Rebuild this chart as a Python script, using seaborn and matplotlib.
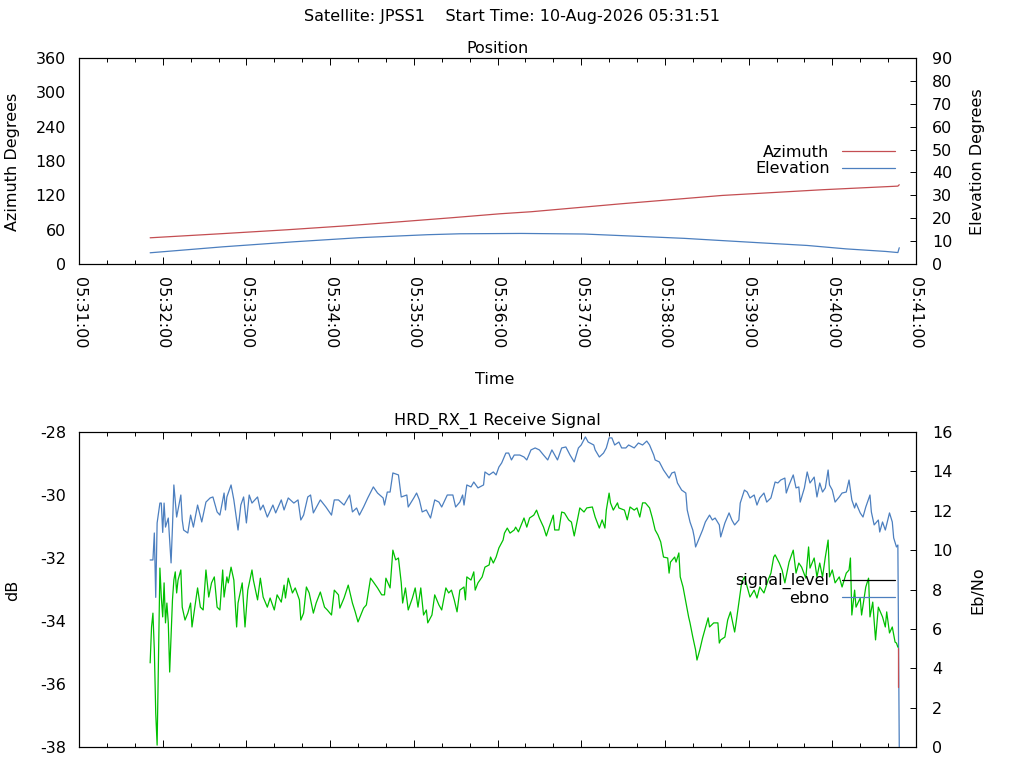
import matplotlib
matplotlib.use("Agg")
import matplotlib.pyplot as plt
from matplotlib.lines import Line2D
from matplotlib.ticker import MultipleLocator, FuncFormatter
import seaborn as sns

# times are seconds after 05:31:00
az_times = [51, 101, 149, 192, 230, 267, 302, 324, 389, 461, 533, 587, 588]
azimuth = [45.8, 52.8, 59.8, 66.8, 73.8, 80.8, 87.8, 91.3, 105.3, 119.8, 129.8, 136.1, 138.5]

el_times = [51, 103, 154, 201, 250, 273, 317, 362, 404, 434, 459, 490, 522, 550, 578, 587, 588]
elevation = [4.9, 7.5, 9.7, 11.5, 12.8, 13.2, 13.35, 13.1, 12.0, 11.2, 10.3, 9.2, 8.1, 6.6, 5.5, 5.0, 7.1]

ebno_times = [
    51, 53, 54, 55, 56, 58, 59, 60, 61, 62, 64, 66, 67, 68, 70, 73, 74, 75, 78, 80,
    82, 85, 88, 91, 94, 96, 99, 101, 104, 105, 106, 109, 111, 114, 116, 118, 120, 122, 124, 128,
    130, 132, 135, 139, 141, 145, 147, 150, 154, 157, 159, 161, 164, 166, 168, 171, 173, 177, 181, 183,
    186, 190, 194, 196, 199, 201, 204, 207, 211, 214, 218, 219, 221, 223, 225, 229, 231, 235, 236, 240,
    242, 244, 246, 249, 252, 255, 258, 260, 264, 268, 270, 273, 275, 276, 278, 281, 283, 286, 290, 291,
    294, 297, 299, 301, 303, 306, 308, 310, 312, 316, 319, 321, 324, 327, 330, 333, 336, 339, 341, 343,
    346, 349, 352, 355, 358, 360, 363, 365, 369, 370, 373, 376, 378, 380, 382, 384, 387, 389, 392, 394,
    398, 401, 404, 407, 409, 412, 413, 416, 419, 423, 425, 427, 429, 432, 435, 436, 438, 440, 441, 442,
    445, 447, 449, 452, 454, 456, 459, 460, 463, 466, 468, 470, 473, 474, 477, 479, 481, 484, 486, 488,
    491, 493, 496, 499, 501, 503, 506, 507, 509, 512, 514, 516, 517, 520, 522, 524, 527, 529, 531, 533,
    535, 537, 538, 540, 542, 545, 547, 550, 552, 554, 556, 557, 560, 562, 564, 567, 568, 570, 573, 574,
    576, 578, 581, 583, 584, 586, 587, 588,
]
ebno = [
    9.50, 9.50, 10.87, 7.60, 11.38, 12.39, 12.39, 10.90, 12.39, 11.17, 11.63, 9.35, 11.17, 13.31, 11.68, 12.80, 11.53, 11.02, 10.87, 11.78,
    11.17, 12.29, 11.43, 12.44, 12.65, 12.70, 11.94, 11.78, 12.90, 12.04, 12.70, 13.31, 12.55, 11.02, 12.29, 12.70, 11.38, 12.80, 12.39, 12.70,
    12.04, 12.29, 11.68, 12.29, 11.89, 12.55, 12.04, 12.65, 12.39, 12.55, 11.53, 11.78, 12.70, 12.80, 11.89, 12.29, 12.55, 12.19, 11.78, 12.55,
    12.55, 12.29, 12.80, 11.94, 12.14, 11.78, 12.19, 12.65, 13.21, 12.90, 12.65, 12.29, 12.95, 12.95, 13.92, 13.82, 12.70, 12.80, 12.19, 12.65,
    12.90, 12.55, 11.94, 12.04, 11.63, 12.55, 12.44, 12.19, 12.80, 12.80, 12.19, 12.44, 12.80, 12.29, 13.31, 13.21, 13.46, 13.16, 13.31, 13.97,
    13.82, 13.97, 13.82, 14.22, 14.43, 14.93, 14.93, 14.58, 14.83, 14.83, 14.73, 14.58, 15.09, 15.19, 15.09, 14.83, 14.58, 15.09, 14.83, 14.58,
    15.19, 15.24, 14.83, 14.48, 15.19, 15.34, 15.75, 15.49, 15.34, 15.09, 14.73, 14.93, 15.19, 15.70, 15.70, 15.34, 15.49, 15.19, 15.19, 15.34,
    15.19, 15.44, 15.34, 15.54, 15.34, 14.83, 14.58, 14.48, 14.07, 13.66, 13.92, 13.97, 13.41, 13.05, 12.90, 12.04, 11.43, 11.02, 10.67, 10.16,
    10.67, 11.02, 11.43, 11.78, 11.53, 11.63, 11.28, 10.67, 11.38, 11.89, 11.53, 11.28, 11.53, 12.39, 13.05, 12.95, 12.65, 12.80, 12.29, 12.65,
    12.90, 12.44, 12.65, 13.46, 13.41, 13.56, 13.66, 12.90, 13.31, 13.82, 13.16, 13.21, 12.44, 13.16, 13.97, 13.41, 13.71, 12.70, 13.41, 12.95,
    13.16, 14.07, 13.31, 13.05, 12.44, 12.70, 12.90, 12.95, 13.56, 12.55, 12.14, 12.39, 11.89, 11.68, 12.19, 12.80, 11.94, 11.28, 11.53, 10.92,
    11.43, 11.02, 11.89, 11.43, 10.62, 10.16, 10.26, 0.0,
]

signal_times = [
    51, 52, 53, 54, 55, 56, 57, 58, 59, 60, 61, 62, 63, 64, 65, 67, 68, 69, 70, 71,
    73, 74, 76, 78, 80, 81, 83, 85, 87, 89, 91, 93, 95, 97, 99, 101, 103, 104, 106, 107,
    109, 111, 113, 114, 117, 119, 121, 124, 125, 128, 130, 132, 135, 137, 140, 142, 145, 147, 148, 150,
    153, 155, 158, 159, 161, 163, 165, 168, 170, 173, 176, 178, 181, 183, 186, 187, 190, 193, 196, 198,
    200, 204, 206, 209, 211, 214, 217, 219, 220, 223, 225, 227, 229, 231, 232, 234, 236, 239, 241, 243,
    245, 247, 249, 250, 253, 255, 258, 260, 263, 265, 267, 269, 271, 273, 276, 277, 278, 281, 283, 284,
    286, 289, 291, 294, 295, 297, 299, 301, 304, 305, 307, 309, 312, 313, 315, 317, 319, 321, 323, 326,
    328, 330, 333, 335, 337, 340, 341, 344, 346, 348, 351, 353, 355, 357, 359, 362, 364, 368, 370, 373,
    375, 377, 378, 380, 381, 383, 386, 387, 391, 393, 395, 398, 400, 402, 404, 406, 409, 411, 413, 415,
    417, 419, 422, 423, 424, 427, 428, 430, 431, 433, 435, 437, 438, 440, 442, 443, 445, 447, 449, 451,
    452, 455, 458, 459, 460, 463, 465, 467, 470, 471, 473, 475, 477, 479, 481, 484, 486, 488, 491, 494,
    496, 498, 499, 502, 504, 506, 509, 512, 514, 516, 518, 521, 523, 524, 527, 529, 531, 533, 535, 537,
    538, 540, 542, 545, 547, 550, 552, 553, 554, 556, 557, 560, 561, 564, 566, 567, 569, 571, 573, 576,
    578, 579, 581, 583, 585, 586, 587,
]
signal_level = [
    -35.33, -34.19, -33.75, -34.92, -36.92, -37.94, -35.02, -32.32, -33.24, -33.87, -32.79, -34.06, -33.43, -34.06, -35.62, -33.33, -32.70, -32.44, -33.11, -32.70,
    -32.38, -33.56, -33.97, -33.75, -33.43, -34.19, -33.56, -32.95, -33.56, -33.65, -32.38, -33.24, -32.79, -32.60, -33.56, -33.65, -32.38, -33.24, -32.60, -32.79,
    -32.29, -32.70, -34.19, -33.43, -32.79, -34.19, -33.02, -32.38, -32.70, -33.33, -32.64, -33.24, -33.56, -33.27, -33.65, -33.17, -33.40, -32.86, -33.27, -32.64,
    -33.11, -32.95, -33.33, -33.97, -33.75, -32.92, -33.11, -33.75, -33.43, -33.08, -33.56, -33.65, -33.81, -33.02, -33.17, -33.59, -33.27, -32.86, -33.43, -33.71,
    -34.03, -33.59, -33.49, -32.64, -32.76, -32.95, -33.17, -33.17, -32.64, -32.95, -31.75, -32.06, -32.00, -32.79, -33.43, -32.95, -33.65, -33.27, -32.95, -33.56,
    -32.95, -33.81, -33.65, -34.06, -33.81, -33.17, -33.49, -33.65, -32.95, -33.11, -33.02, -33.33, -33.71, -33.02, -32.92, -33.33, -32.60, -32.70, -32.44, -33.02,
    -32.79, -32.60, -32.29, -32.22, -31.97, -32.16, -31.97, -31.68, -31.43, -31.21, -31.05, -31.21, -31.11, -31.02, -31.17, -30.95, -30.73, -31.02, -30.73, -30.64,
    -30.48, -30.73, -31.02, -31.30, -31.02, -30.64, -31.11, -31.11, -30.54, -30.57, -30.79, -30.86, -31.30, -30.86, -30.41, -30.54, -30.41, -30.38, -30.70, -31.05,
    -30.79, -31.05, -30.48, -29.94, -30.25, -30.48, -30.25, -30.41, -30.48, -30.79, -30.38, -30.48, -30.41, -30.70, -30.25, -30.25, -30.41, -30.73, -31.11, -31.27,
    -31.49, -31.97, -32.00, -32.48, -32.13, -31.97, -32.13, -31.84, -32.60, -32.92, -33.40, -33.87, -34.06, -34.51, -34.92, -35.24, -34.92, -34.54, -34.22, -33.90,
    -34.19, -34.06, -34.06, -34.70, -34.60, -34.51, -33.97, -33.71, -34.35, -34.06, -33.43, -32.79, -32.60, -32.92, -33.24, -33.02, -33.27, -32.92, -33.11, -32.70,
    -32.48, -31.97, -31.90, -32.16, -32.38, -32.79, -32.13, -31.75, -32.48, -32.16, -32.29, -32.64, -31.65, -32.32, -32.00, -32.60, -32.16, -32.60, -31.97, -31.43,
    -32.60, -32.38, -32.79, -32.60, -32.92, -32.48, -32.38, -32.00, -33.81, -33.02, -33.56, -33.27, -33.81, -32.92, -32.64, -33.87, -33.40, -34.60, -33.56, -33.87,
    -34.19, -33.71, -34.38, -34.19, -34.67, -34.70, -34.83,
]

# short red trace at the very end of the pass
tail_times = [587, 587]
tail_level = [-34.86, -36.10]

AZ_RED = "#c44e52"
EL_BLUE = "#4c7fbf"
SIG_GREEN = "#00c000"
FS = 11.5
LW = 0.9

sns.set_style("white")
plt.rcParams["font.family"] = ["DejaVu Sans"]
plt.rcParams["font.size"] = FS
plt.rcParams["axes.unicode_minus"] = False
plt.rcParams["text.color"] = "black"
plt.rcParams["axes.labelcolor"] = "black"
plt.rcParams["xtick.color"] = "black"
plt.rcParams["ytick.color"] = "black"


def time_label(v, pos):
    return f"05:{31 + int(round(v)) // 60:02d}:00"


def style_pair(ax, twin):
    ax.set_xlim(0, 600)
    ax.xaxis.set_major_locator(MultipleLocator(60))
    ax.xaxis.set_minor_locator(MultipleLocator(20))
    ax.xaxis.set_major_formatter(FuncFormatter(time_label))
    ax.tick_params(axis="x", which="both", direction="in", top=True, bottom=True, width=0.7)
    ax.tick_params(axis="x", which="major", length=5, pad=9.4, labelsize=FS)
    ax.tick_params(axis="x", which="minor", length=2.6)
    ax.tick_params(axis="y", length=0, pad=9.4, labelsize=FS)
    twin.tick_params(axis="y", direction="in", length=4.3, width=0.7, pad=11.5, labelsize=FS)
    for a in (ax, twin):
        for spine in a.spines.values():
            spine.set_color("black")
            spine.set_linewidth(0.8)


fig = plt.figure(figsize=(10.24, 7.68), dpi=100)
fig.text(0.5, 1 - 17 / 768, "Satellite: JPSS1    Start Time: 10-Aug-2026 05:31:51",
         ha="center", va="center")

# ---- Position panel
ax_pos = fig.add_axes([79 / 1024, 1 - 264 / 768, 837 / 1024, 206 / 768])
ax_el = ax_pos.twinx()
sns.lineplot(x=az_times, y=azimuth, ax=ax_pos, color=AZ_RED, linewidth=LW,
             estimator=None, sort=False)
sns.lineplot(x=el_times, y=elevation, ax=ax_el, color=EL_BLUE, linewidth=LW,
             estimator=None, sort=False)
style_pair(ax_pos, ax_el)
ax_pos.set_ylim(0, 360)
ax_pos.set_yticks(range(0, 361, 60))
ax_el.set_ylim(0, 90)
ax_el.set_yticks(range(0, 91, 10))
ax_pos.tick_params(axis="x", labelrotation=270)
ax_pos.set_title("Position", pad=3.6, fontsize=FS)
ax_pos.set_xlabel("Time", va="center")
ax_pos.xaxis.set_label_coords(0.497, -0.561)
ax_pos.set_ylabel("Azimuth Degrees", va="center")
ax_pos.yaxis.set_label_coords(-0.0789, 0.494)
ax_el.set_ylabel("Elevation Degrees", va="center")
ax_el.yaxis.set_label_coords(1.0735, 0.497)
ax_el.legend(
    handles=[Line2D([], [], color=AZ_RED, lw=LW, label="Azimuth"),
             Line2D([], [], color=EL_BLUE, lw=LW, label="Elevation")],
    loc="center right", bbox_to_anchor=(0.975, 0.502), markerfirst=False, frameon=False,
    handlelength=3.3, handletextpad=0.8, labelspacing=0.08, borderpad=0, borderaxespad=0,
    fontsize=FS,
)

# ---- Receive signal panel
ax_sig = fig.add_axes([79 / 1024, 1 - 747 / 768, 837 / 1024, 315 / 768])
ax_eb = ax_sig.twinx()
# keep the dB axes on top so the red tail shows over the blue drop
ax_eb.set_zorder(1)
ax_sig.set_zorder(2)
ax_sig.patch.set_visible(False)
sns.lineplot(x=signal_times, y=signal_level, ax=ax_sig, color=SIG_GREEN, linewidth=LW,
             estimator=None, sort=False)
sns.lineplot(x=tail_times, y=tail_level, ax=ax_sig, color=AZ_RED, linewidth=LW,
             estimator=None, sort=False)
sns.lineplot(x=ebno_times, y=ebno, ax=ax_eb, color=EL_BLUE, linewidth=LW,
             estimator=None, sort=False)
style_pair(ax_sig, ax_eb)
ax_sig.tick_params(axis="x", labelbottom=False)
ax_sig.set_ylim(-38, -28)
ax_sig.set_yticks(range(-38, -27, 2))
ax_eb.set_ylim(0, 16)
ax_eb.set_yticks(range(0, 17, 2))
ax_sig.set_title("HRD_RX_1 Receive Signal", pad=5, fontsize=FS)
ax_sig.set_xlabel("")
ax_eb.set_xlabel("")
ax_sig.set_ylabel("dB", va="center")
ax_sig.yaxis.set_label_coords(-0.0789, 0.498)
ax_eb.set_ylabel("Eb/No", va="center")
ax_eb.yaxis.set_label_coords(1.0735, 0.498)
ax_sig.legend(
    handles=[Line2D([], [], color="black", lw=LW, label="signal_level"),
             Line2D([], [], color=EL_BLUE, lw=LW, label="ebno")],
    loc="center right", bbox_to_anchor=(0.975, 0.5), markerfirst=False, frameon=False,
    handlelength=3.3, handletextpad=0.8, labelspacing=0.08, borderpad=0, borderaxespad=0,
    fontsize=FS,
)

fig.savefig("out.png", dpi=100)
